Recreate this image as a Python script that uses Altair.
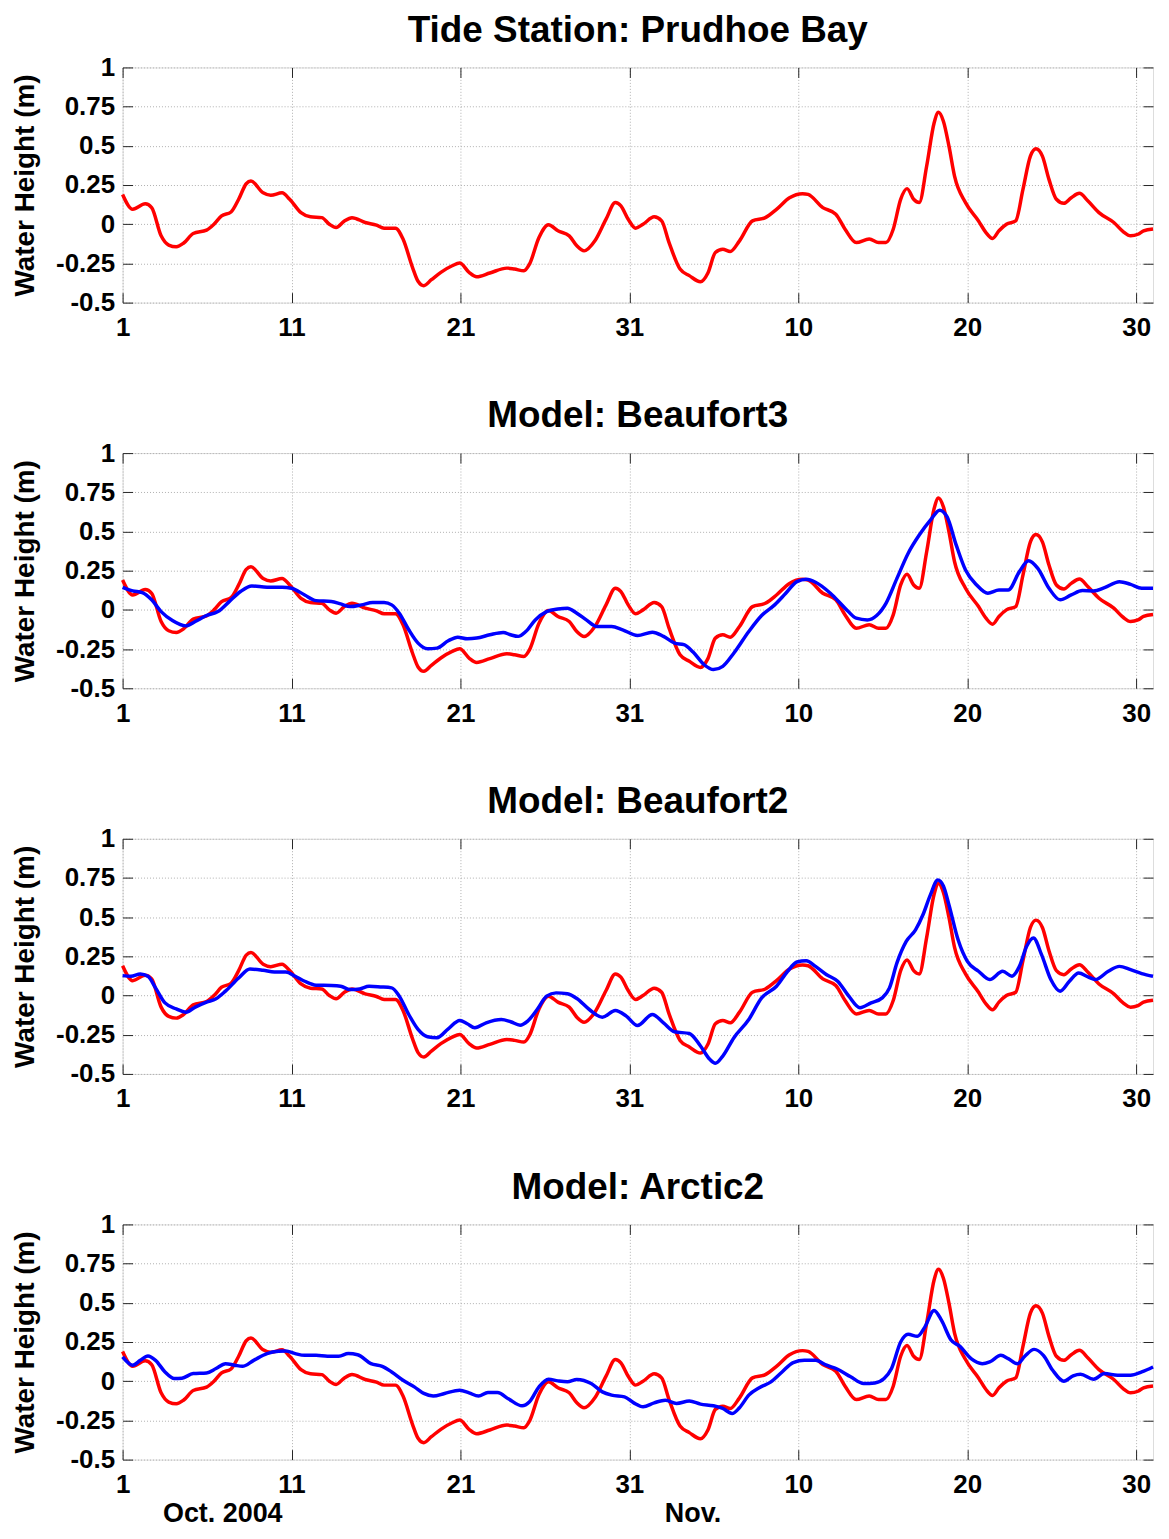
import altair as alt
import pandas as pd

# ---------------- data ----------------
# Tide station observations (red), day 0 = Oct 1 2004
OBS_DAY = [0.0, 0.6, 1.34, 1.72, 2.28, 2.73, 3.18, 3.62, 4.18, 4.97, 5.41, 5.86, 6.42, 6.87, 7.32, 7.6,
           8.32, 8.77, 9.44, 9.89, 10.56, 11.12, 11.79, 12.24, 12.64, 13.13, 13.58, 14.36, 15.03, 15.48,
           16.15, 16.6, 17.16, 17.49, 17.83, 18.28, 18.84, 19.51, 19.96, 20.51, 20.96, 21.74, 22.75, 23.2,
           23.76, 24.09, 24.65, 25.21, 25.77, 26.44, 26.89, 27.32, 27.96, 28.62, 29.17, 29.5, 29.93, 30.37,
           30.81, 31.47, 31.91, 32.35, 33.0, 33.55, 34.21, 34.65, 35.09, 35.53, 35.97, 36.52, 37.29, 38.05,
           38.71, 39.48, 40.25, 40.58, 41.45, 42.22, 42.77, 43.43, 44.2, 44.75, 45.19, 45.62, 46.06, 46.44,
           46.83, 47.16, 47.6, 48.04, 48.3, 48.59, 48.92, 49.25, 49.9, 50.67, 51.11, 51.5, 51.88, 52.32,
           52.87, 53.3, 53.74, 54.07, 54.45, 54.84, 55.28, 55.72, 56.16, 56.64, 57.15, 57.8, 58.68, 59.23,
           59.67, 60.11, 60.44, 61.0]
OBS_H = [0.19, 0.095, 0.13, 0.106, -0.074, -0.133, -0.144, -0.12, -0.059, -0.038, 0.0, 0.053, 0.078, 0.159,
         0.258, 0.275, 0.2, 0.184, 0.2, 0.159, 0.074, 0.047, 0.042, 0.0, -0.021, 0.021, 0.042, 0.011, -0.006,
         -0.025, -0.025, -0.095, -0.275, -0.364, -0.392, -0.354, -0.307, -0.265, -0.248, -0.307, -0.335,
         -0.311, -0.28, -0.286, -0.297, -0.254, -0.085, -0.004, -0.042, -0.074, -0.138, -0.17, -0.106, 0.032,
         0.138, 0.117, 0.032, -0.025, 0.0, 0.047, 0.021, -0.117, -0.286, -0.328, -0.367, -0.311, -0.18,
         -0.159, -0.174, -0.106, 0.021, 0.042, 0.095, 0.169, 0.195, 0.19, 0.106, 0.064, -0.032, -0.117,
         -0.095, -0.117, -0.117, -0.032, 0.159, 0.227, 0.159, 0.138, 0.371, 0.646, 0.714, 0.657, 0.498,
         0.307, 0.138, 0.021, -0.053, -0.091, -0.042, 0.0, 0.021, 0.222, 0.434, 0.481, 0.434, 0.286, 0.159,
         0.133, 0.169, 0.197, 0.148, 0.074, 0.011, -0.047, -0.074, -0.064, -0.042, -0.03]

# Model: Beaufort3 (blue)
B3_DAY = [0.0, 0.6, 1.16, 1.72, 2.28, 2.95, 3.74, 4.3, 4.97, 5.64, 6.31, 6.98, 7.65, 8.55, 9.44, 10.0, 10.78,
          11.45, 12.35, 12.91, 13.47, 14.14, 14.81, 15.48, 15.93, 16.38, 16.94, 17.49, 18.05, 18.61, 19.28,
          19.84, 20.4, 20.96, 21.74, 22.53, 22.97, 23.42, 23.87, 24.43, 25.1, 25.77, 26.33, 26.89, 27.45,
          28.07, 28.95, 29.6, 30.48, 31.36, 32.02, 32.68, 33.23, 33.77, 34.43, 34.98, 35.53, 36.19, 37.07,
          37.83, 38.6, 39.26, 39.92, 40.47, 41.02, 41.9, 42.77, 43.43, 44.09, 44.64, 45.19, 45.84, 46.5,
          47.16, 47.82, 48.37, 48.81, 49.35, 49.9, 50.56, 51.22, 51.88, 52.43, 53.09, 53.63, 54.18, 54.84,
          55.5, 56.16, 56.82, 57.47, 58.13, 59.01, 59.67, 60.33, 61.0]
B3_H = [0.144, 0.121, 0.11, 0.064, -0.011, -0.068, -0.102, -0.074, -0.036, -0.011, 0.053, 0.117, 0.153, 0.144,
        0.144, 0.138, 0.095, 0.059, 0.053, 0.038, 0.021, 0.032, 0.047, 0.047, 0.032, -0.021, -0.127, -0.212,
        -0.248, -0.244, -0.197, -0.174, -0.184, -0.18, -0.159, -0.144, -0.159, -0.169, -0.138, -0.064, -0.011,
        0.006, 0.011, -0.021, -0.064, -0.106, -0.106, -0.127, -0.163, -0.142, -0.169, -0.212, -0.222, -0.269,
        -0.35, -0.381, -0.36, -0.275, -0.138, -0.036, 0.032, 0.106, 0.18, 0.195, 0.176, 0.106, 0.011, -0.053,
        -0.064, -0.036, 0.042, 0.201, 0.36, 0.477, 0.572, 0.636, 0.593, 0.413, 0.254, 0.159, 0.106, 0.127,
        0.127, 0.244, 0.314, 0.265, 0.138, 0.064, 0.095, 0.123, 0.121, 0.142, 0.18, 0.163, 0.138, 0.138]

# Model: Beaufort2 (blue)
B2_DAY = [0.0, 0.49, 1.05, 1.5, 1.95, 2.51, 3.18, 3.74, 4.3, 4.97, 5.53, 6.09, 6.87, 7.54, 8.32, 8.99, 9.66,
          10.22, 10.78, 11.45, 12.35, 12.91, 13.47, 14.03, 14.59, 15.26, 15.93, 16.38, 16.94, 17.49, 18.05,
          18.61, 19.28, 19.96, 20.4, 20.85, 21.52, 22.42, 22.97, 23.53, 23.98, 24.54, 25.1, 25.66, 26.33,
          26.89, 27.63, 28.4, 29.17, 29.82, 30.48, 31.36, 32.02, 32.68, 33.55, 34.21, 34.76, 35.09, 35.53,
          36.19, 37.07, 37.83, 38.71, 39.37, 39.92, 40.47, 41.02, 41.68, 42.33, 42.99, 43.65, 44.31, 44.97,
          45.4, 45.84, 46.39, 46.94, 47.38, 47.82, 48.26, 48.59, 48.92, 49.46, 50.01, 50.67, 51.33, 52.1,
          52.65, 53.09, 53.52, 53.92, 54.4, 54.95, 55.5, 56.05, 56.6, 57.15, 57.59, 58.35, 59.01, 59.67,
          60.33, 61.0]
B2_H = [0.127, 0.123, 0.138, 0.123, 0.049, -0.047, -0.085, -0.106, -0.074, -0.042, -0.021, 0.028, 0.112, 0.169,
        0.161, 0.15, 0.15, 0.123, 0.091, 0.066, 0.064, 0.059, 0.038, 0.042, 0.059, 0.055, 0.049, -0.004, -0.121,
        -0.216, -0.263, -0.269, -0.212, -0.159, -0.18, -0.206, -0.174, -0.153, -0.167, -0.189, -0.163, -0.089,
        -0.004, 0.017, 0.011, -0.019, -0.089, -0.138, -0.095, -0.131, -0.191, -0.121, -0.174, -0.231, -0.242,
        -0.322, -0.407, -0.432, -0.386, -0.269, -0.153, -0.015, 0.059, 0.155, 0.214, 0.222, 0.186, 0.133,
        0.091, -0.004, -0.078, -0.047, -0.015, 0.049, 0.208, 0.345, 0.419, 0.515, 0.642, 0.737, 0.699, 0.578,
        0.356, 0.218, 0.155, 0.102, 0.155, 0.123, 0.186, 0.314, 0.367, 0.261, 0.102, 0.028, 0.091, 0.144,
        0.119, 0.102, 0.155, 0.186, 0.165, 0.14, 0.123]

# Model: Arctic2 (blue)
A2_DAY = [0.0, 0.6, 1.05, 1.5, 1.95, 2.51, 3.06, 3.51, 4.18, 4.97, 5.53, 6.09, 6.64, 7.09, 7.76, 8.55, 9.22,
          9.66, 10.22, 10.78, 11.45, 12.13, 12.8, 13.36, 13.91, 14.7, 15.37, 15.93, 16.6, 17.27, 17.83, 18.39,
          19.06, 19.96, 20.51, 21.07, 21.63, 22.19, 22.86, 23.65, 24.09, 24.65, 25.21, 25.77, 26.33, 26.89,
          27.74, 28.4, 28.95, 29.71, 30.26, 30.81, 31.47, 32.13, 32.79, 33.55, 34.21, 34.98, 35.53, 36.08,
          36.52, 37.07, 37.72, 38.38, 39.04, 39.7, 40.36, 41.02, 41.68, 42.33, 43.1, 43.87, 44.53, 45.08,
          45.52, 46.06, 46.5, 47.05, 47.49, 48.04, 48.48, 49.03, 49.57, 50.23, 50.89, 51.33, 51.99, 52.43,
          52.98, 53.41, 53.96, 54.51, 55.06, 55.72, 56.27, 56.71, 57.48, 58.13, 58.9, 59.67, 60.33, 61.0]
A2_H = [0.155, 0.102, 0.133, 0.161, 0.133, 0.059, 0.017, 0.019, 0.049, 0.053, 0.081, 0.112, 0.102, 0.095, 0.133,
        0.176, 0.191, 0.193, 0.176, 0.165, 0.165, 0.159, 0.159, 0.176, 0.169, 0.112, 0.095, 0.059, 0.006,
        -0.036, -0.078, -0.095, -0.078, -0.057, -0.074, -0.095, -0.072, -0.072, -0.114, -0.157, -0.131,
        -0.036, 0.013, 0.002, -0.004, 0.011, -0.015, -0.068, -0.089, -0.1, -0.138, -0.163, -0.138, -0.121,
        -0.142, -0.127, -0.146, -0.157, -0.174, -0.206, -0.169, -0.089, -0.04, -0.004, 0.059, 0.119, 0.133,
        0.133, 0.102, 0.076, 0.028, -0.015, -0.011, 0.017, 0.081, 0.25, 0.299, 0.286, 0.345, 0.451, 0.388,
        0.265, 0.222, 0.144, 0.112, 0.123, 0.165, 0.144, 0.112, 0.159, 0.203, 0.165, 0.07, 0.0, 0.034, 0.044,
        0.013, 0.049, 0.038, 0.038, 0.059, 0.091]

TITLES = ["Tide Station: Prudhoe Bay", "Model: Beaufort3", "Model: Beaufort2", "Model: Arctic2"]
X_TICKS = [0, 10, 20, 30, 40, 50, 60]
X_TICK_LABELS = ["1", "11", "21", "31", "10", "20", "30"]
Y_TICKS = [-0.5, -0.25, 0, 0.25, 0.5, 0.75, 1]
MONTH_LABELS = ["Oct. 2004", "Nov."]
MONTH_LABEL_DAYS = [2.39, 32.1]

# ---------------- styling ----------------
W, H = 1034, 236
FONT = "Liberation Sans"
RED, BLUE = "#ff0000", "#0000ff"
TICK_COLOR = "#262626"
LW = 3.5

x_scale = alt.Scale(domain=[0, 61], nice=False, zero=False)
y_scale = alt.Scale(domain=[-0.5, 1], nice=False, zero=False)

label_expr_x = " : ".join(
    f"datum.value == {v} ? '{l}'" for v, l in zip(X_TICKS, X_TICK_LABELS)
) + " : ''"

main_x_axis = alt.Axis(values=X_TICKS, labelExpr=label_expr_x, ticks=False, domain=False, grid=True,
                       gridDash=[1, 2], gridColor="#b0b0b0", gridWidth=1, labelFont=FONT, labelFontSize=26,
                       labelFontWeight="bold", labelColor="black", labelPadding=12, labelFlush=False,
                       labelOverlap=False, title=None)
main_y_axis = alt.Axis(values=Y_TICKS, labelExpr="'' + datum.value", ticks=False, domain=False, grid=True,
                       gridDash=[1, 2], gridColor="#b0b0b0", gridWidth=1, labelFont=FONT, labelFontSize=26,
                       labelFontWeight="bold", labelColor="black", labelPadding=8, labelFlush=False,
                       labelOverlap=False, title="Water Height (m)", titleFont=FONT, titleFontSize=28,
                       titleFontWeight="bold", titleColor="black", titleAngle=-90, titleX=-89, titleY=H / 2,
                       titleBaseline="alphabetic", titleAlign="center")


def tick_axis(orient, values):
    return alt.Axis(orient=orient, values=values, labels=False, domain=False, grid=False, ticks=True,
                    tickSize=10, offset=-10, tickColor=TICK_COLOR, tickWidth=1, title=None,
                    minExtent=0, maxExtent=10)


def panel(title, obs_df, model_df=None, last=False):
    red = alt.Chart(obs_df).mark_line(color=RED, strokeWidth=LW, interpolate="monotone").encode(
        x=alt.X("day:Q", scale=x_scale, axis=main_x_axis),
        y=alt.Y("h:Q", scale=y_scale, axis=main_y_axis),
    )
    ticks_a = alt.Chart(obs_df).mark_line(opacity=0).encode(
        x=alt.X("day:Q", scale=x_scale, axis=tick_axis("bottom", X_TICKS)),
        y=alt.Y("h:Q", scale=y_scale, axis=tick_axis("left", Y_TICKS)),
    )
    ticks_b = alt.Chart(obs_df).mark_line(opacity=0).encode(
        x=alt.X("day:Q", scale=x_scale, axis=tick_axis("top", X_TICKS)),
        y=alt.Y("h:Q", scale=y_scale, axis=tick_axis("right", Y_TICKS)),
    )
    ttl = alt.Chart(pd.DataFrame({"t": [title]})).mark_text(
        font=FONT, fontSize=37, fontWeight="bold", color="black", align="center", baseline="alphabetic"
    ).encode(x=alt.value(W / 2), y=alt.value(-25.7), text="t:N")
    layers = [ticks_a, ticks_b, red]
    if model_df is not None:
        blue = alt.Chart(model_df).mark_line(color=BLUE, strokeWidth=LW, interpolate="monotone").encode(
            x=alt.X("day:Q", scale=x_scale, axis=None),
            y=alt.Y("h:Q", scale=y_scale, axis=None),
        )
        layers.append(blue)
    layers.append(ttl)
    if last:
        lab_df = pd.DataFrame({"day": MONTH_LABEL_DAYS, "label": MONTH_LABELS})
        txt = alt.Chart(lab_df).mark_text(font=FONT, fontSize=27, fontWeight="bold", color="black",
                                          align="left", baseline="alphabetic").encode(
            x=alt.X("day:Q", scale=x_scale, axis=None),
            y=alt.value(H + 63),
            text="label:N",
        )
        layers.append(txt)
    return alt.layer(*layers).resolve_axis(x="independent", y="independent").properties(width=W, height=H)


obs = pd.DataFrame({"day": OBS_DAY, "h": OBS_H})
models = [None,
          pd.DataFrame({"day": B3_DAY, "h": B3_H}),
          pd.DataFrame({"day": B2_DAY, "h": B2_H}),
          pd.DataFrame({"day": A2_DAY, "h": A2_H})]

panels = [panel(t, obs, m, last=(i == 3)) for i, (t, m) in enumerate(zip(TITLES, models))]

chart = alt.vconcat(*panels, spacing=55).properties(
    padding={"left": 3, "top": 0, "right": 0, "bottom": -4}
).configure_view(stroke="#1a1a1a", strokeWidth=1).configure(background="white")

chart.save("out.html", embed_options={"renderer": "svg", "actions": False})
